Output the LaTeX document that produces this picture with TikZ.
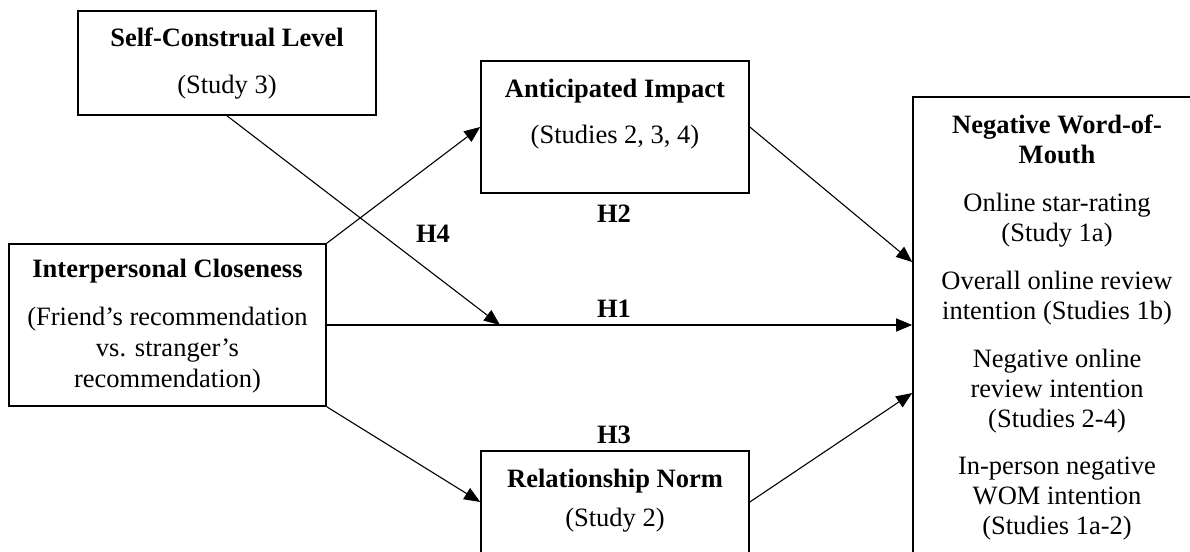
\documentclass[tikz,border=0pt]{standalone}
\usepackage{fontspec}
\setmainfont{Liberation Serif}
\usetikzlibrary{arrows.meta}
\begin{document}
\begin{tikzpicture}[x=1pt,y=-1pt,
  box/.style={draw, line width=1.6pt, inner sep=0pt},
  txt/.style={anchor=base, inner sep=0pt, font=\fontsize{26.5}{30}\selectfont},
  btxt/.style={anchor=base, inner sep=0pt, font=\fontsize{26.5}{30}\selectfont\bfseries},
  arr/.style={line width=1.1pt, -{Triangle[length=16pt,width=13pt]}}]
\useasboundingbox (0,0) rectangle (1190,551);
\clip (0,0) rectangle (1190,551);
% boxes
\node[box, minimum width=298pt, minimum height=104pt] (sc) at (227,63) {};
\node[box, minimum width=268pt, minimum height=132pt] (ai) at (615,127) {};
\node[box, minimum width=317pt, minimum height=162pt] (ic) at (167.5,325) {};
\node[box, minimum width=268pt, minimum height=102pt] (rn) at (615,502) {};
\node[box, minimum width=289pt, minimum height=468pt] (nw) at (1057.5,331) {};
% texts
\node[btxt] (sct) at (227,47) {Self-Construal Level};
\node[txt] (scs) at (227,93) {(Study 3)};
\node[btxt] (ait) at (615,97) {Anticipated Impact};
\node[txt] (ais) at (615,143) {(Studies 2, 3, 4)};
\node[btxt] (ict) at (167.5,277) {Interpersonal Closeness};
\node[txt] (ic1) at (167.5,325) {(Friend’s recommendation};
\node[txt] (ic2) at (167.5,356) {vs. stranger’s};
\node[txt] (ic3) at (167.5,387) {recommendation)};
\node[btxt] (rnt) at (615,487) {Relationship Norm};
\node[txt] (rns) at (615,526) {(Study 2)};
\node[btxt] (nwt1) at (1057,133) {Negative Word-of-};
\node[btxt] (nwt2) at (1057,163) {Mouth};
\node[txt] (nw1) at (1057,211) {Online star-rating};
\node[txt] (nw2) at (1057,241) {(Study 1a)};
\node[txt] (nw3) at (1057,289) {Overall online review};
\node[txt] (nw4) at (1057,319) {intention (Studies 1b)};
\node[txt] (nw5) at (1057,367) {Negative online};
\node[txt] (nw6) at (1057,397) {review intention};
\node[txt] (nw7) at (1057,427) {(Studies 2-4)};
\node[txt] (nw8) at (1057,474) {In-person negative};
\node[txt] (nw9) at (1057,504) {WOM intention};
\node[txt] (nw10) at (1057,534) {(Studies 1a-2)};
% hypothesis labels
\node[btxt] (h1) at (614,317) {H1};
\node[btxt] (h2) at (614,222) {H2};
\node[btxt] (h3) at (614,443) {H3};
\node[btxt] (h4) at (433,242) {H4};
% connectors
\coordinate (h4end) at (500,325);
\draw[arr] (ic.north east) -- (ai.west);
\draw[arr] (ic.east) -- (ic.east -| nw.west);
\draw[arr] (ic.south east) -- (rn.west);
\draw[arr] (sc.south) -- (h4end);
\draw[arr] (ai.east) -- ([yshift=69pt]nw.west);
\draw[arr] (rn.east) -- ([yshift=-62pt]nw.west);
\end{tikzpicture}
\end{document}
